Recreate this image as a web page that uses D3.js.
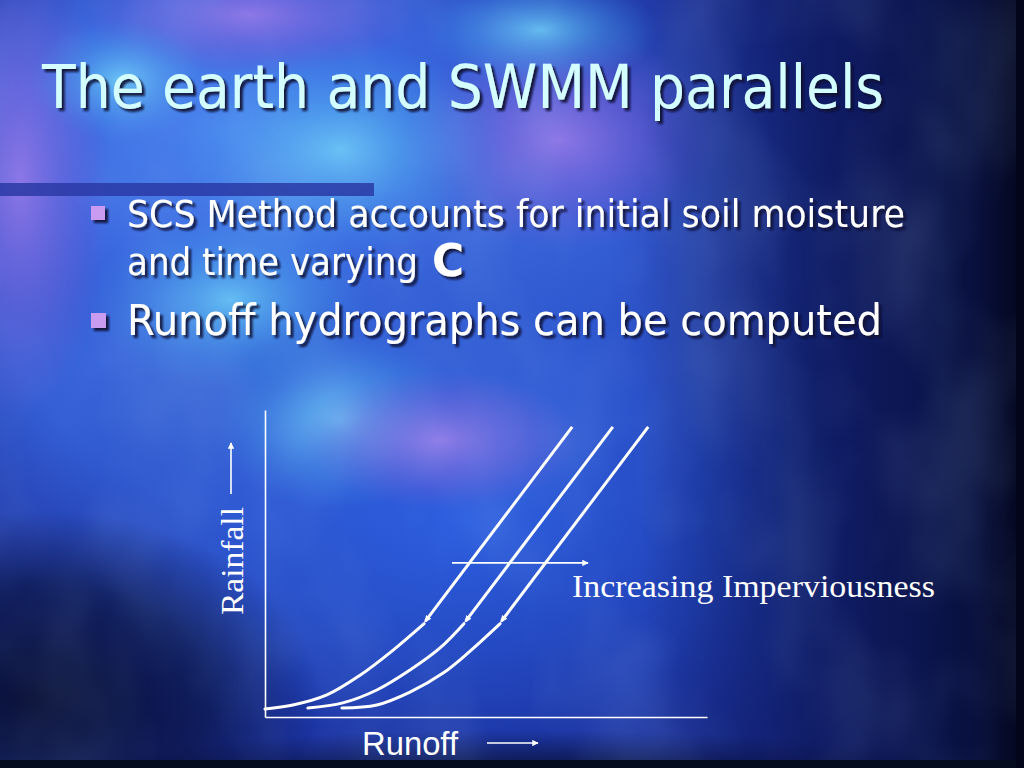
<!DOCTYPE html>
<html><head><meta charset="utf-8">
<script src="https://cdn.jsdelivr.net/npm/d3@7"></script>
<style>html,body{margin:0;padding:0;background:#0c1450;overflow:hidden}svg{display:block}</style>
</head><body>
<svg id="s" width="1024" height="768"></svg>
<script>
// ---- data (Runoff vs Rainfall, arbitrary units 0..100) ----
const titleText = "The earth and SWMM parallels";
const bullet1Line1 = "SCS Method accounts for initial soil moisture";
const bullet1Line2 = "and time varying ";
const bullet1Bold = "C";
const bullet2 = "Runoff hydrographs can be computed";
const xLabel = "Runoff";
const yLabel = "Rainfall";
const arrowLabel = "Increasing Imperviousness";

// lower curved parts of the three curves [runoff, rainfall]
const curve1 = [[0,2.6],[6.3,3.9],[14.0,7.2],[21.5,13.6],[29.0,21.8],[36.0,30.4]];
const curve2 = [[9.7,2.9],[17.6,4.6],[25.3,8.8],[32.8,15.3],[39.6,22.5],[45.0,30.4]];
const curve3 = [[17.4,2.9],[25.3,3.9],[32.8,8.1],[40.3,14.3],[46.2,21.2],[53.2,30.4]];
// upper straight parts (drawn top -> bottom, arrow at the bottom)
const line1 = [[69.5,94.5],[36.3,31.2]];
const line2 = [[78.7,94.5],[45.4,31.2]];
const line3 = [[86.7,94.5],[53.5,31.2]];
// increasing imperviousness arrow
const imperArrow = [[42.3,50.2],[73.1,50.2]];

const svg = d3.select("#s");
const defs = svg.append("defs");

// ---- background ----
function rg(id, stops){
  const g = defs.append("radialGradient").attr("id", id);
  stops.forEach(s => g.append("stop").attr("offset", s[0]).attr("stop-color", s[1]).attr("stop-opacity", s[2]));
}
rg("gBlue", [[0,"#4a82ee",1],[0.55,"#3a68e0",0.85],[1,"#2a4cc8",0]]);
rg("gCyan", [[0,"#70d4f8",0.8],[0.5,"#50b0f0",0.4],[1,"#3a90e8",0]]);
rg("gPurple", [[0,"#9c7ae8",0.85],[0.6,"#7a60d8",0.4],[1,"#6a50d0",0]]);
rg("gDark", [[0,"#050a28",0.9],[0.6,"#081034",0.6],[1,"#0a1240",0]]);
rg("gMid", [[0,"#2c5ee0",0.95],[0.6,"#2650cc",0.55],[1,"#1c3cb0",0]]);
const lin = defs.append("linearGradient").attr("id","gRight").attr("x1",0).attr("x2",1).attr("y1",0).attr("y2",0);
[[0,"#081040",0],[0.45,"#081040",0.55],[0.85,"#060c32",0.85],[1,"#03061a",0.97]].forEach(s=>lin.append("stop").attr("offset",s[0]).attr("stop-color",s[1]).attr("stop-opacity",s[2]));

const bg = svg.append("g");
bg.append("rect").attr("width",1024).attr("height",768).attr("fill","#1a2d98");
const blobs = [
  ["gBlue", 300, 260, 560, 470],
  ["gMid", 470, 520, 430, 300],
  ["gBlue", 220, 130, 360, 240],
  ["gPurple", 20, 180, 90, 240],
  ["gPurple", 250, 15, 170, 60],
  ["gPurple", 560, 140, 160, 110],
  ["gCyan", 340, 150, 170, 110],
  ["gCyan", 230, 300, 140, 90],
  ["gCyan", 340, 420, 130, 90],
  ["gCyan", 540, 30, 120, 55],
  ["gCyan", 120, 80, 90, 60],
  ["gPurple", 440, 440, 140, 70],
  ["gDark", 40, 700, 280, 190],
  ["gDark", 520, 800, 560, 70]
];
blobs.forEach(b => bg.append("ellipse").attr("cx",b[1]).attr("cy",b[2]).attr("rx",b[3]).attr("ry",b[4]).attr("fill",`url(#${b[0]})`));
bg.append("rect").attr("x",640).attr("y",0).attr("width",384).attr("height",768).attr("fill","url(#gRight)");
// cloud texture
const turb = defs.append("filter").attr("id","clouds").attr("x",0).attr("y",0).attr("width","100%").attr("height","100%");
turb.append("feTurbulence").attr("type","fractalNoise").attr("baseFrequency","0.009 0.006").attr("numOctaves",3).attr("seed",11);
turb.append("feColorMatrix").attr("type","matrix").attr("values","0 0 0 0 0.5  0 0 0 0 0.75  0 0 0 0 1  0 0 0 0.6 -0.22");
bg.append("rect").attr("width",1024).attr("height",768).attr("filter","url(#clouds)").attr("opacity",0.4);
bg.append("rect").attr("x",0).attr("y",760).attr("width",1024).attr("height",8).attr("fill","#050c20");
bg.append("rect").attr("x",1016).attr("y",0).attr("width",8).attr("height",768).attr("fill","#03061a");

// ---- shadow filters ----
const sh = defs.append("filter").attr("id","shadow").attr("x","-5%").attr("y","-20%").attr("width","115%").attr("height","150%");
sh.append("feDropShadow").attr("dx",3).attr("dy",3).attr("stdDeviation",0.8).attr("flood-color","#0a0a30").attr("flood-opacity",0.9);
const sh2 = defs.append("filter").attr("id","shadowSq").attr("x","-50%").attr("y","-50%").attr("width","200%").attr("height","200%");
sh2.append("feDropShadow").attr("dx",3).attr("dy",3).attr("stdDeviation",0.8).attr("flood-color","#0a0a30").attr("flood-opacity",0.9);

// ---- title & bullets ----
const tahoma = "'DejaVu Sans Condensed','DejaVu Sans',Verdana,sans-serif";
svg.append("text").attr("x",42).attr("y",108).attr("font-family",tahoma).attr("font-size",60)
  .attr("fill","#d4fdff").attr("filter","url(#shadow)").attr("textLength",842).attr("lengthAdjust","spacingAndGlyphs")
  .text(titleText);

svg.append("rect").attr("x",0).attr("y",183).attr("width",374).attr("height",13).attr("fill","#2a3aa6").attr("opacity",0.85);

const bullets = [[91,206,14,14],[91,313,15,15]];
bullets.forEach(b => svg.append("rect").attr("x",b[0]).attr("y",b[1]).attr("width",b[2]).attr("height",b[3])
  .attr("fill","#c99cf2").attr("filter","url(#shadowSq)"));

svg.append("text").attr("x",127).attr("y",227).attr("font-family",tahoma).attr("font-size",37).attr("fill","#ffffff")
  .attr("filter","url(#shadow)").attr("textLength",778).attr("lengthAdjust","spacingAndGlyphs").text(bullet1Line1);
svg.append("text").attr("x",127).attr("y",275).attr("font-family",tahoma).attr("font-size",37).attr("fill","#ffffff")
  .attr("filter","url(#shadow)").attr("textLength",291).attr("lengthAdjust","spacingAndGlyphs").text(bullet1Line2.trim());
svg.append("text").attr("x",432).attr("y",276).attr("font-family",tahoma).attr("font-weight","bold").attr("font-size",45).attr("fill","#ffffff")
  .attr("filter","url(#shadow)").attr("textLength",32).attr("lengthAdjust","spacingAndGlyphs").text(bullet1Bold);
svg.append("text").attr("x",127).attr("y",335).attr("font-family",tahoma).attr("font-size",43).attr("fill","#ffffff")
  .attr("filter","url(#shadow)").attr("textLength",755).attr("lengthAdjust","spacingAndGlyphs").text(bullet2);

// ---- chart ----
const x = d3.scaleLinear().domain([0,100]).range([265,707]);
const y = d3.scaleLinear().domain([0,100]).range([717,410]);
const chart = svg.append("g");

const xAxis = chart.append("g").attr("transform",`translate(0,${y(0)})`).call(d3.axisBottom(x).ticks(0).tickSizeOuter(0));
const yAxis = chart.append("g").attr("transform",`translate(${x(0)},0)`).call(d3.axisLeft(y).ticks(0).tickSizeOuter(0));
[xAxis,yAxis].forEach(a => a.select(".domain").attr("stroke","#ffffff").attr("stroke-width",1.6));

const mk = defs.append("marker").attr("id","head").attr("viewBox","0 0 10 10").attr("refX",9).attr("refY",5)
  .attr("markerWidth",4).attr("markerHeight",4).attr("markerUnits","strokeWidth").attr("orient","auto");
mk.append("path").attr("d","M0,0 L10,5 L0,10 Z").attr("fill","#ffffff");
const mk2 = defs.append("marker").attr("id","head2").attr("viewBox","0 0 10 10").attr("refX",7).attr("refY",5)
  .attr("markerWidth",2.6).attr("markerHeight",2.6).attr("markerUnits","strokeWidth").attr("orient","auto");
mk2.append("path").attr("d","M0,1 L10,5 L0,9 Z").attr("fill","#ffffff");

const curveGen = d3.line().x(d=>x(d[0])).y(d=>y(d[1])).curve(d3.curveCatmullRom.alpha(0.5));
const lineGen = d3.line().x(d=>x(d[0])).y(d=>y(d[1]));
[curve1,curve2,curve3].forEach(c => chart.append("path").attr("d",curveGen(c)).attr("fill","none")
  .attr("stroke","#ffffff").attr("stroke-width",3).attr("stroke-linecap","round"));
[line1,line2,line3].forEach(l => chart.append("path").attr("d",lineGen(l)).attr("fill","none")
  .attr("stroke","#ffffff").attr("stroke-width",3).attr("marker-end","url(#head2)"));
chart.append("path").attr("d",lineGen(imperArrow)).attr("stroke","#ffffff").attr("stroke-width",1.6).attr("fill","none")
  .attr("marker-end","url(#head)");

// labels
chart.append("text").attr("x",572).attr("y",597).attr("font-family","'Liberation Serif','Times New Roman',serif")
  .attr("font-size",32).attr("fill","#ffffff").attr("textLength",363).attr("lengthAdjust","spacingAndGlyphs").text(arrowLabel);
chart.append("text").attr("x",362).attr("y",755).attr("font-family","'Liberation Sans',Arial,sans-serif")
  .attr("font-size",33).attr("fill","#ffffff").attr("textLength",96).attr("lengthAdjust","spacingAndGlyphs").text(xLabel);
chart.append("line").attr("x1",487).attr("y1",743).attr("x2",538).attr("y2",743).attr("stroke","#ffffff").attr("stroke-width",1.6)
  .attr("marker-end","url(#head)");
chart.append("text").attr("transform","translate(243,615) rotate(-90)").attr("font-family","'Liberation Serif','Times New Roman',serif")
  .attr("font-size",32).attr("fill","#ffffff").attr("textLength",108).attr("lengthAdjust","spacingAndGlyphs").text(yLabel);
chart.append("line").attr("x1",231).attr("y1",494).attr("x2",231).attr("y2",443).attr("stroke","#ffffff").attr("stroke-width",1.6)
  .attr("marker-end","url(#head)");
</script>
</body></html>
